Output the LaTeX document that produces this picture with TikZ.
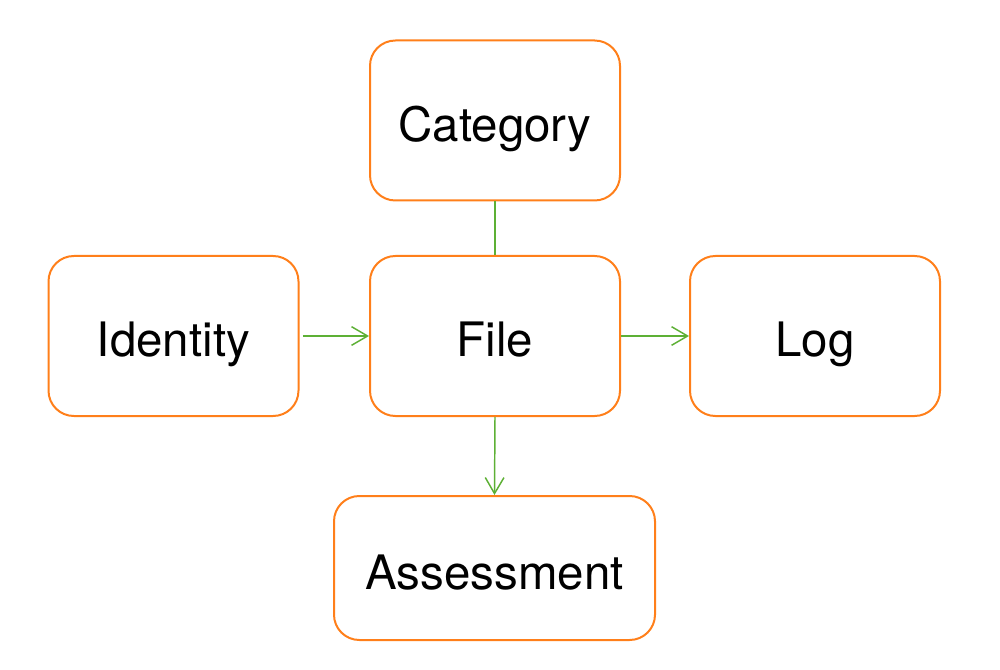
\documentclass[tikz,border=0pt]{standalone}
\usepackage{fontspec}
\setmainfont{TeX Gyre Heros}
\usetikzlibrary{arrows.meta}
\definecolor{boxorange}{HTML}{FF7F1A}
\definecolor{linkgreen}{HTML}{5DB035}
\begin{document}
\begin{tikzpicture}[x=0.75pt, y=-0.75pt,
  entity/.style={draw=boxorange, line width=1.5pt, rounded corners=19pt,
    minimum width=187.5pt, minimum height=120pt, inner sep=0pt,
    text height=32pt, text depth=0.5pt,
    font=\fontsize{35.6}{40}\selectfont},
  link/.style={draw=linkgreen, line width=1.1pt},
  arrowlink/.style={link, -{Straight Barb[length=12pt, width=14pt, line width=1.1pt]}}]
  \useasboundingbox (0,0) rectangle (1000,670);
  \node[entity] (category) at (495,120.5) {Category};
  \node[entity] (identity) at (173.5,336) {Identity};
  \node[entity] (file) at (495,336) {File};
  \node[entity] (log) at (815,336) {Log};
  \node[entity, minimum width=240.75pt, minimum height=108pt] (assessment) at (494.5,568) {Assessment};
  \draw[link] (category) -- (file);
  \draw[arrowlink] ([xshift=2.5pt]identity.east) -- (file.west);
  \draw[arrowlink] (file.east) -- (log.west);
  \draw[arrowlink] (file.south) -- (assessment.north);
\end{tikzpicture}
\end{document}
